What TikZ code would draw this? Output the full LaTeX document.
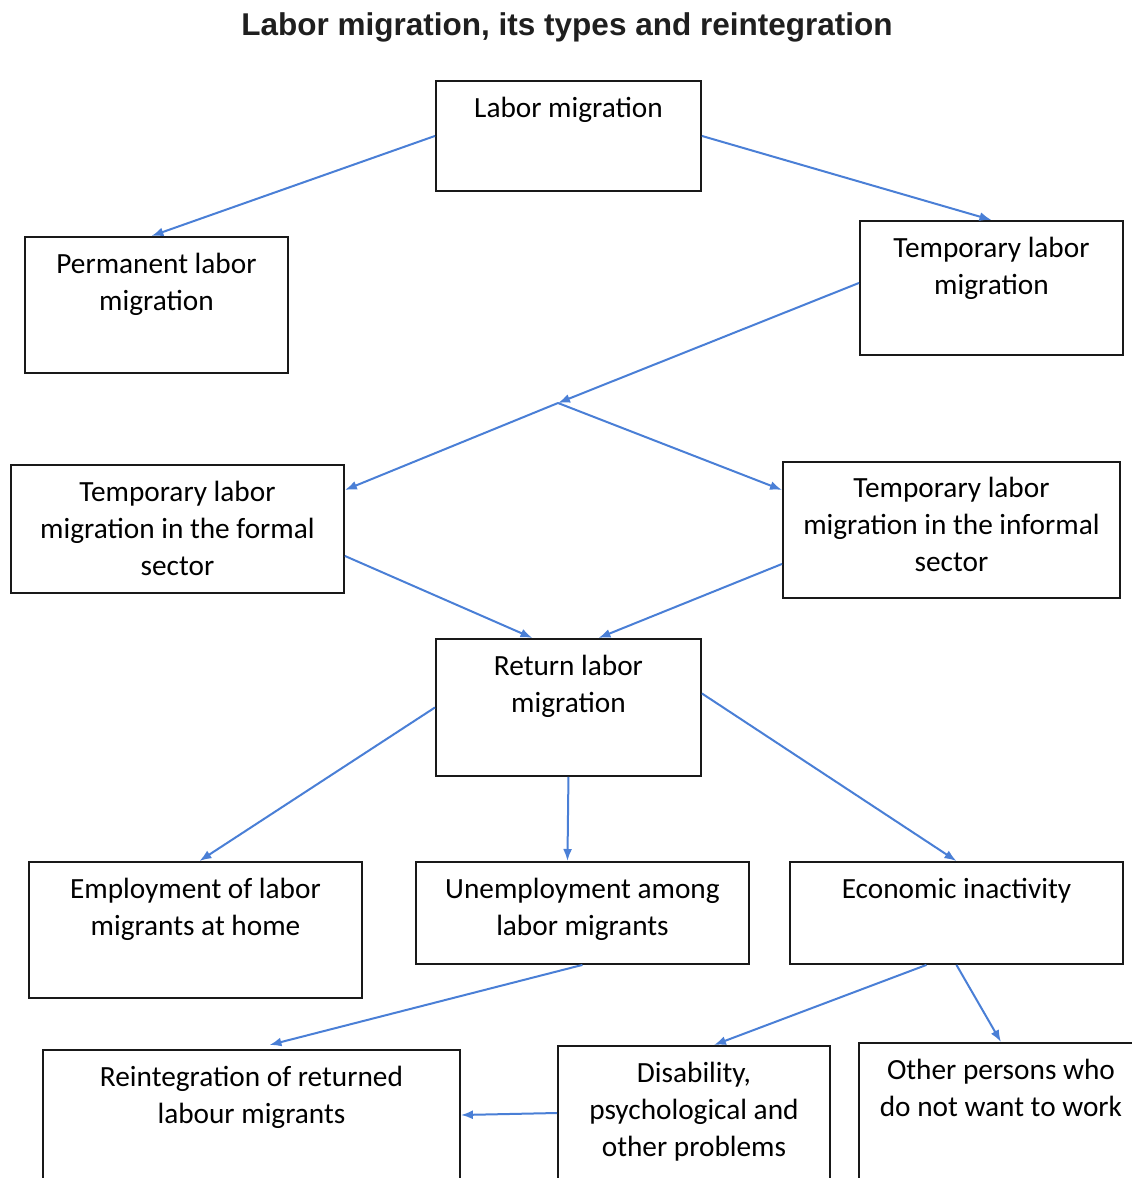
\documentclass[tikz,border=0pt]{standalone}
\usepackage{fontspec}
\setmainfont{Carlito}
\newfontfamily\titlefont{Liberation Sans}
\usetikzlibrary{arrows.meta}
\definecolor{flowblue}{HTML}{4A7FD6}
\begin{document}
\begin{tikzpicture}[x=1pt, y=-1pt]
    \tikzstyle{block} = [draw=black!90, line width=1.9pt, inner sep=0pt, anchor=north west]
    \tikzstyle{txt} = [align=center, anchor=north, inner sep=0pt, font=\fontsize{29.3}{37}\selectfont]
    \tikzstyle{flow} = [-{Latex[length=12pt, width=9pt]}, line width=2pt, draw=flowblue]

    \useasboundingbox (0,0) rectangle (1132,1178);
    \clip (0,0) rectangle (1132,1178);

    \node[font=\titlefont\bfseries\fontsize{31.5}{36}\selectfont, text=black!88] (Title) at (567,27) {Labor migration, its types and reintegration};

    % boxes
    \node[block, minimum width=265pt, minimum height=110pt] (LM) at (435,80) {};
    \node[block, minimum width=263pt, minimum height=136pt] (PLM) at (24,236) {};
    \node[block, minimum width=263pt, minimum height=134pt] (TLM) at (859,220) {};
    \node[block, minimum width=333pt, minimum height=128pt] (Formal) at (10,464) {};
    \node[block, minimum width=337pt, minimum height=136pt] (Informal) at (782,461) {};
    \node[block, minimum width=265pt, minimum height=137pt] (Return) at (435,638) {};
    \node[block, minimum width=333pt, minimum height=136pt] (Employment) at (28,861) {};
    \node[block, minimum width=333pt, minimum height=102pt] (Unemployment) at (415,861) {};
    \node[block, minimum width=333pt, minimum height=102pt] (Inactive) at (789,861) {};
    \node[block, minimum width=417pt, minimum height=160pt] (Reint) at (42,1049) {};
    \node[block, minimum width=272pt, minimum height=160pt] (Disability) at (557,1045) {};
    \node[block, minimum width=284pt, minimum height=160pt] (Other) at (858,1042) {};

    % texts
    \node[txt] (LMt) at ([yshift=-17pt]LM.north) {Labor migration};
    \node[txt] (PLMt) at ([yshift=-17pt]PLM.north) {Permanent labor\\migration};
    \node[txt] (TLMt) at ([yshift=-17pt]TLM.north) {Temporary labor\\migration};
    \node[txt] (Formalt) at ([yshift=-17pt]Formal.north) {Temporary labor\\migration in the formal\\sector};
    \node[txt] (Informalt) at ([yshift=-16pt]Informal.north) {Temporary labor\\migration in the informal\\sector};
    \node[txt] (Returnt) at ([yshift=-17pt]Return.north) {Return labor\\migration};
    \node[txt] (Employmentt) at ([yshift=-17pt]Employment.north) {Employment of labor\\migrants at home};
    \node[txt] (Unemploymentt) at ([yshift=-17pt]Unemployment.north) {Unemployment among\\labor migrants};
    \node[txt] (Inactivet) at ([yshift=-17pt]Inactive.north) {Economic inactivity};
    \node[txt] (Reintt) at ([yshift=-17pt]Reint.north) {Reintegration of returned\\labour migrants};
    \node[txt] (Disabilityt) at ([yshift=-17pt]Disability.north) {Disability,\\psychological and\\other problems};
    \node[txt] (Othert) at ([yshift=-17pt]Other.north) {Other persons who\\do not want to work};

    \coordinate (Split) at (558,403);

    % connectors
    \draw[flow] (LM.west) -- ([xshift=-5pt]PLM.north);
    \draw[flow] (LM.east) -- (TLM.north);
    \draw[flow] ([yshift=5pt]TLM.west) -- (Split);
    \draw[flow] (Split) -- ([yshift=-26pt]Formal.north east);
    \draw[flow] (Split) -- ([yshift=-29pt]Informal.north west);
    \draw[flow] ([yshift=-27pt]Formal.east) -- ([xshift=-36pt]Return.north);
    \draw[flow] ([yshift=-34pt]Informal.west) -- ([xshift=30pt]Return.north);
    \draw[flow] (Return.west) -- ([xshift=4pt]Employment.north);
    \draw[flow] (Return.south) -- ([xshift=-15pt]Unemployment.north);
    \draw[flow] ([yshift=14pt]Return.east) -- (Inactive.north);
    \draw[flow] (Unemployment.south) -- ([xshift=18pt, yshift=4pt]Reint.north);
    \draw[flow] ([xshift=-30pt]Inactive.south) -- ([xshift=20pt]Disability.north);
    \draw[flow] (Inactive.south) -- (Other.north);
    \draw[flow] ([yshift=-68pt]Disability.north west) -- ([yshift=-66pt]Reint.north east);
\end{tikzpicture}
\end{document}
